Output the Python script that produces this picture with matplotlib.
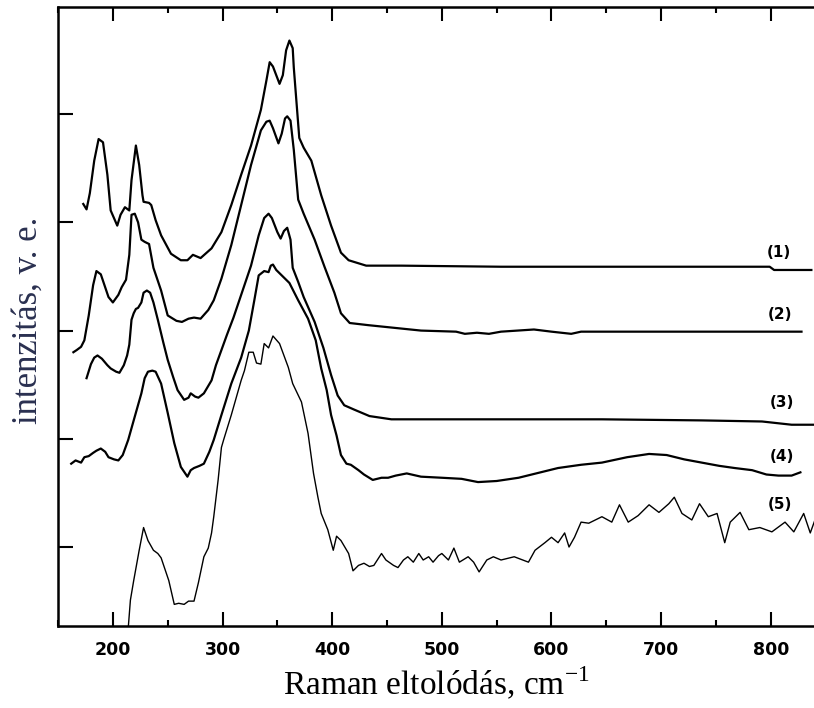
import matplotlib
matplotlib.use('Agg')
import matplotlib.pyplot as plt
from matplotlib.ticker import MultipleLocator

plt.rcParams['mathtext.fontset'] = 'custom'
plt.rcParams['mathtext.rm'] = 'Liberation Serif'

# Raman shift (cm-1) and offset intensities (a.u.)
x1 = [173, 176, 179, 183, 187, 191, 195, 198, 204, 207, 211, 215, 217, 221,
      224, 227, 228, 233, 235, 239, 244, 253, 262, 268, 273, 280, 290, 299,
      308, 317, 326, 335, 340, 343, 346, 352, 355, 358, 361, 364, 365, 368,
      370, 374, 381, 390, 399, 408, 415, 431, 463, 554, 646, 737, 799, 803,
      837]
y1 = [4.17, 4.12, 4.27, 4.57, 4.77, 4.74, 4.44, 4.11, 3.97, 4.07, 4.14, 4.11,
      4.39, 4.71, 4.53, 4.25, 4.19, 4.18, 4.16, 4.02, 3.88, 3.71, 3.65, 3.65,
      3.70, 3.67, 3.76, 3.91, 4.16, 4.44, 4.71, 5.04, 5.31, 5.48, 5.44, 5.28,
      5.36, 5.59, 5.68, 5.61, 5.43, 5.04, 4.78, 4.69, 4.57, 4.25, 3.97, 3.72,
      3.65, 3.60, 3.60, 3.59, 3.59, 3.59, 3.59, 3.56, 3.56]

x2 = [164, 167, 171, 174, 178, 182, 185, 189, 193, 196, 200, 205, 208, 212,
      215, 217, 220, 223, 226, 229, 233, 237, 244, 250, 258, 263, 269, 274,
      280, 287, 292, 299, 308, 317, 326, 335, 340, 343, 346, 351, 354, 357,
      359, 362, 365, 369, 374, 384, 393, 402, 408, 416, 433, 481, 513, 521,
      532, 543, 554, 584, 600, 618, 627, 691, 737, 764, 792, 828]
y2 = [2.80, 2.82, 2.85, 2.91, 3.14, 3.42, 3.55, 3.52, 3.40, 3.31, 3.26, 3.33,
      3.40, 3.47, 3.70, 4.07, 4.08, 4.00, 3.84, 3.82, 3.80, 3.58, 3.37, 3.14,
      3.09, 3.08, 3.11, 3.12, 3.11, 3.19, 3.28, 3.48, 3.79, 4.16, 4.53, 4.85,
      4.93, 4.94, 4.87, 4.73, 4.82, 4.96, 4.98, 4.94, 4.67, 4.21, 4.08, 3.84,
      3.59, 3.35, 3.16, 3.07, 3.05, 3.00, 2.99, 2.97, 2.98, 2.97, 2.99, 3.01,
      2.99, 2.97, 2.99, 2.99, 2.99, 2.99, 2.99, 2.99]

x3 = [176, 180, 183, 186, 190, 195, 198, 203, 206, 210, 213, 215, 217, 219,
      221, 223, 226, 228, 231, 234, 237, 241, 246, 250, 255, 259, 265, 269,
      271, 275, 278, 283, 290, 294, 299, 304, 310, 317, 326, 333, 338, 342,
      345, 350, 353, 356, 359, 362, 364, 369, 374, 384, 392, 399, 405, 411,
      420, 434, 454, 481, 554, 646, 737, 792, 819, 839]
y3 = [2.56, 2.69, 2.75, 2.77, 2.74, 2.68, 2.65, 2.62, 2.61, 2.68, 2.77, 2.87,
      3.10, 3.16, 3.20, 3.21, 3.26, 3.35, 3.37, 3.35, 3.26, 3.10, 2.89, 2.73,
      2.57, 2.45, 2.36, 2.38, 2.42, 2.39, 2.38, 2.42, 2.54, 2.68, 2.82, 2.96,
      3.12, 3.33, 3.60, 3.88, 4.04, 4.08, 4.04, 3.91, 3.85, 3.92, 3.95, 3.84,
      3.58, 3.45, 3.31, 3.08, 2.84, 2.59, 2.40, 2.31, 2.27, 2.21, 2.18, 2.18,
      2.18, 2.18, 2.17, 2.16, 2.13, 2.13]

x4 = [162, 166, 171, 174, 178, 182, 185, 189, 193, 196, 201, 205, 209, 214,
      219, 226, 229, 232, 236, 239, 244, 250, 256, 262, 268, 271, 274, 279,
      283, 288, 292, 299, 308, 317, 324, 329, 333, 338, 342, 344, 346, 349,
      352, 361, 369, 378, 385, 390, 395, 399, 404, 408, 413, 417, 424, 429,
      437, 445, 451, 458, 468, 481, 500, 518, 533, 550, 570, 586, 606, 627,
      646, 669, 689, 705, 721, 737, 753, 767, 783, 796, 807, 819, 827]
y4 = [1.77, 1.80, 1.78, 1.83, 1.84, 1.87, 1.89, 1.91, 1.88, 1.83, 1.81, 1.80,
      1.85, 1.99, 2.17, 2.42, 2.56, 2.62, 2.63, 2.62, 2.51, 2.24, 1.96, 1.74,
      1.65, 1.71, 1.73, 1.75, 1.77, 1.88, 1.99, 2.22, 2.51, 2.75, 3.00, 3.28,
      3.51, 3.55, 3.54, 3.60, 3.61, 3.56, 3.53, 3.44, 3.28, 3.11, 2.91, 2.65,
      2.45, 2.22, 2.03, 1.85, 1.77, 1.76, 1.71, 1.67, 1.62, 1.64, 1.64, 1.66,
      1.68, 1.65, 1.64, 1.63, 1.60, 1.61, 1.64, 1.68, 1.73, 1.76, 1.78, 1.83,
      1.86, 1.85, 1.81, 1.78, 1.75, 1.73, 1.71, 1.67, 1.66, 1.66, 1.69]

x5 = [214, 216, 219, 224, 228, 232, 237, 241, 244, 247, 251, 256, 260, 265,
      269, 274, 278, 283, 287, 290, 292, 296, 299, 301, 308, 317, 320, 324,
      328, 331, 335, 338, 342, 346, 352, 360, 364, 372, 378, 383, 387, 390,
      396, 401, 404, 408, 415, 419, 424, 429, 434, 438, 445, 449, 456, 460,
      465, 469, 474, 479, 483, 488, 492, 497, 500, 506, 511, 516, 524, 529,
      534, 541, 547, 554, 566, 579, 585, 594, 600, 606, 612, 616, 621, 627,
      634, 646, 655, 662, 670, 679, 689, 698, 707, 712, 719, 728, 735, 743,
      751, 758, 763, 772, 780, 790, 801, 813, 821, 830, 836, 841]
y5 = [0.25, 0.51, 0.69, 0.97, 1.18, 1.06, 0.97, 0.94, 0.90, 0.81, 0.69, 0.47,
      0.48, 0.47, 0.50, 0.50, 0.67, 0.91, 0.99, 1.13, 1.28, 1.62, 1.92, 1.99,
      2.22, 2.54, 2.63, 2.80, 2.80, 2.70, 2.69, 2.88, 2.84, 2.95, 2.88, 2.66,
      2.51, 2.34, 2.05, 1.68, 1.46, 1.31, 1.16, 0.97, 1.10, 1.06, 0.94, 0.78,
      0.83, 0.85, 0.82, 0.83, 0.94, 0.88, 0.83, 0.81, 0.88, 0.91, 0.86, 0.94,
      0.88, 0.91, 0.86, 0.92, 0.94, 0.88, 0.99, 0.86, 0.91, 0.86, 0.77, 0.88,
      0.91, 0.88, 0.91, 0.86, 0.97, 1.04, 1.09, 1.04, 1.13, 1.00, 1.09, 1.23,
      1.22, 1.28, 1.23, 1.39, 1.23, 1.29, 1.39, 1.32, 1.40, 1.46, 1.31, 1.25,
      1.40, 1.28, 1.31, 1.04, 1.23, 1.32, 1.16, 1.18, 1.14, 1.23, 1.14, 1.31,
      1.13, 1.27]

# curve labels and where they sit
labels = ['(1)', '(2)', '(3)', '(4)', '(5)']
label_x = [807, 808, 810, 810, 808]
label_y = [3.72, 3.15, 2.34, 1.84, 1.39]

fig = plt.figure(figsize=(8.14, 7.08), dpi=100)
ax = fig.add_axes([0.0713, 0.1158, 0.9295, 0.8743])

# draw the five spectra
for xs, ys, lw in [(x1, y1, 1.6), (x2, y2, 1.6), (x3, y3, 1.6),
                   (x4, y4, 1.6), (x5, y5, 1.0)]:
    ax.plot(xs, ys, color='black', linewidth=lw)

for lab, lx, ly in zip(labels, label_x, label_y):
    ax.text(lx, ly, lab, fontsize=11, fontweight='bold', ha='center',
            va='center', family='DejaVu Sans')

ax.set_xlim(150, 840)
ax.set_ylim(0.27, 5.99)

# ticks pointing in; right side only has tiny ticks
ax.xaxis.set_major_locator(MultipleLocator(100))
ax.xaxis.set_minor_locator(MultipleLocator(50))
ax.set_yticks([1, 2, 3, 4, 5])
ax.tick_params(axis='x', which='major', direction='in', length=10, width=1.5,
               top=True, pad=11, labelsize=12.5)
ax.tick_params(axis='x', which='minor', direction='in', length=4, width=1.5,
               top=True)
ax.tick_params(axis='y', which='major', direction='in', length=11, width=1.5,
               labelleft=False)
for lab in ax.get_xticklabels():
    lab.set_fontweight('bold')
    lab.set_family('DejaVu Sans')
for sp in ax.spines.values():
    sp.set_linewidth(1.8)
ax.spines['right'].set_visible(False)

ax.set_xlabel('Raman eltolódás, cm$^{-1}$', fontsize=24,
              family='Liberation Serif', labelpad=4)
fig.text(0.035, 0.547, 'intenzitás, v. e.', rotation=90, fontsize=25,
         family='Liberation Serif', color='#2a3050', ha='center', va='center')

fig.savefig('out.png', dpi=100)
